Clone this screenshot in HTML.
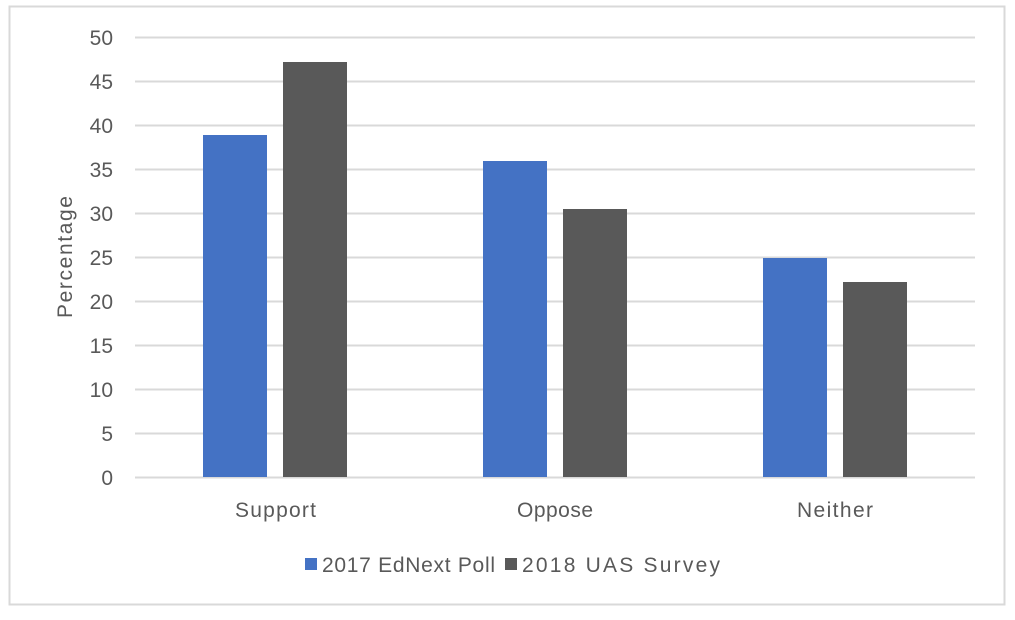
<!DOCTYPE html>
<html><head><style>
body{margin:0;background:#fff;}
svg text{font-family:"Liberation Sans",sans-serif;fill:#595959;}
</style></head><body>
<svg width="1015" height="615" xmlns="http://www.w3.org/2000/svg">
<rect x="9.5" y="6.5" width="995" height="598" fill="#fff" stroke="#d9d9d9" stroke-width="2"/>
<g stroke="#d9d9d9" stroke-width="2">
<line x1="135" x2="975" y1="37.5" y2="37.5"/>
<line x1="135" x2="975" y1="81.5" y2="81.5"/>
<line x1="135" x2="975" y1="125.5" y2="125.5"/>
<line x1="135" x2="975" y1="169.5" y2="169.5"/>
<line x1="135" x2="975" y1="213.5" y2="213.5"/>
<line x1="135" x2="975" y1="257.5" y2="257.5"/>
<line x1="135" x2="975" y1="301.5" y2="301.5"/>
<line x1="135" x2="975" y1="345.5" y2="345.5"/>
<line x1="135" x2="975" y1="389.5" y2="389.5"/>
<line x1="135" x2="975" y1="433.5" y2="433.5"/>
<line x1="135" x2="975" y1="477.5" y2="477.5"/>
</g>
<g font-size="21" text-anchor="end">
<text x="113" y="45">50</text><text x="113" y="89">45</text><text x="113" y="133">40</text>
<text x="113" y="177">35</text><text x="113" y="221">30</text><text x="113" y="265">25</text>
<text x="113" y="309">20</text><text x="113" y="353">15</text><text x="113" y="397">10</text>
<text x="113" y="441">5</text><text x="113" y="485">0</text>
</g>
<text x="72" y="257" font-size="21" text-anchor="middle" textLength="122" transform="rotate(-90 72 257)">Percentage</text>
<rect x="203" y="135" width="64" height="342" fill="#4472C4"/>
<rect x="283" y="62" width="64" height="415" fill="#595959"/>
<rect x="483" y="161" width="64" height="316" fill="#4472C4"/>
<rect x="563" y="209" width="64" height="268" fill="#595959"/>
<rect x="763" y="258" width="64" height="219" fill="#4472C4"/>
<rect x="843" y="282" width="64" height="195" fill="#595959"/>
<g font-size="21">
<text x="235" y="517" textLength="81">Support</text><text x="517" y="517" textLength="76">Oppose</text><text x="797" y="517" textLength="76">Neither</text>
</g>
<rect x="305" y="558" width="12" height="12" fill="#4472C4"/>
<text x="322" y="572" font-size="21" textLength="173">2017 EdNext Poll</text>
<rect x="505" y="558" width="12" height="12" fill="#595959"/>
<text x="522" y="572" font-size="21" textLength="198">2018 UAS Survey</text>
</svg>
</body></html>
